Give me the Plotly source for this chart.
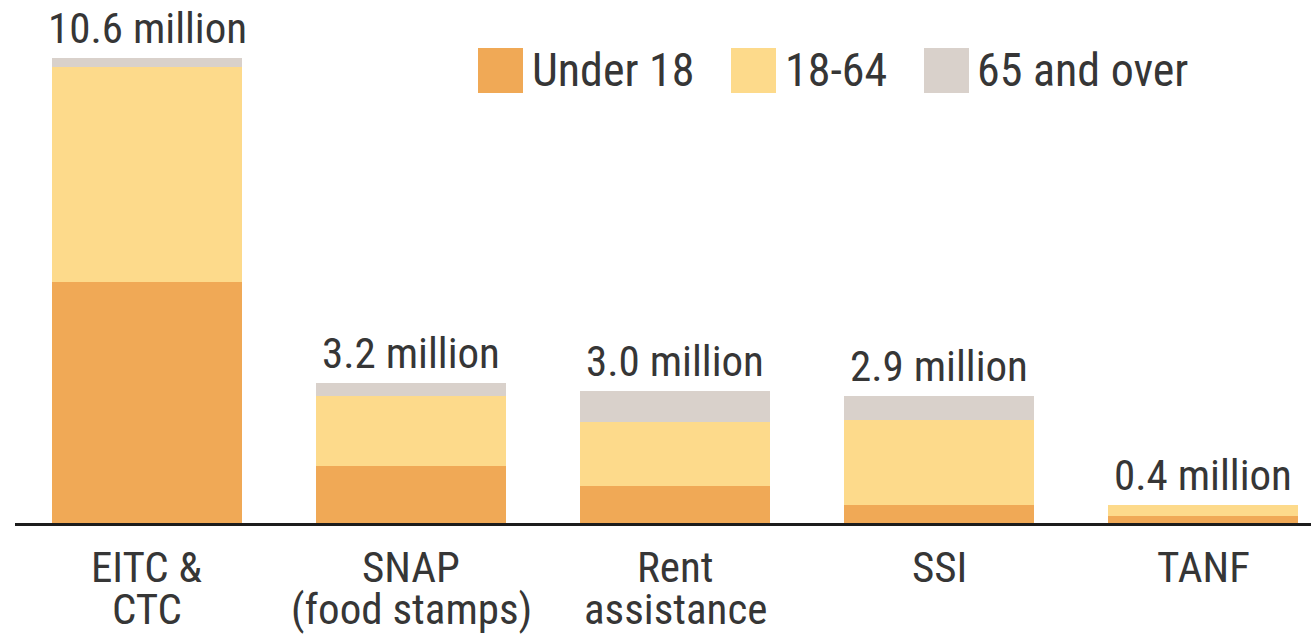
import plotly.graph_objects as go

categories = ["EITC &<br>CTC", "SNAP<br>(food stamps)", "Rent<br>assistance", "SSI", "TANF"]
under_18 = [5.5, 1.3, 0.85, 0.4, 0.15]
age_18_64 = [4.9, 1.6, 1.45, 1.95, 0.25]
age_65_over = [0.2, 0.3, 0.7, 0.55, 0.0]
total_labels = ["10.6 million", "3.2 million", "3.0 million", "2.9 million", "0.4 million"]
series_names = ["Under 18", "18-64", "65 and over"]
series_colors = ["#F0A956", "#FDDA8B", "#D9D1CB"]

FONT = "Liberation Sans Narrow, Roboto Condensed, Arial Narrow, Liberation Sans, sans-serif"
TXT = "#363636"

W, H = 1311, 638
ML, MR, MT, MB = 15, 0, 0, 115
PW = W - ML - MR
PH = H - MT - MB

x_idx = list(range(len(categories)))
fig = go.Figure()
for name, vals, col in zip(series_names, [under_18, age_18_64, age_65_over], series_colors):
    fig.add_trace(go.Bar(x=x_idx, y=vals, name=name, marker=dict(color=col, line=dict(width=0)),
                         width=0.72, showlegend=False))

totals = [a + b + c for a, b, c in zip(under_18, age_18_64, age_65_over)]
annotations = []
for i, (t, lab) in enumerate(zip(totals, total_labels)):
    annotations.append(dict(x=i, y=t, xref="x", yref="y", text=lab, showarrow=False,
                            xanchor="center", yanchor="middle", yshift=30,
                            font=dict(family=FONT, size=43, color=TXT)))
for i, cat in enumerate(categories):
    lines = cat.split("<br>")
    for j, ln in enumerate(lines):
        annotations.append(dict(x=i, y=0, xref="x", yref="paper", text=ln, showarrow=False,
                                xanchor="center", yanchor="middle", yshift=-44 - 42 * j,
                                font=dict(family=FONT, size=43, color=TXT)))

# custom legend (large squares)
shapes = []
leg_sq_x = [478, 731, 924]
leg_txt_x = [530, 783, 975]
sq = 45
sq_top = 48
for name, col, sx, tx in zip(series_names, series_colors, leg_sq_x, leg_txt_x):
    x0 = (sx - ML) / PW
    x1 = (sx + sq - ML) / PW
    y1 = (PH - (sq_top - MT)) / PH
    y0 = (PH - (sq_top + sq - MT)) / PH
    shapes.append(dict(type="rect", xref="paper", yref="paper", x0=x0, x1=x1, y0=y0, y1=y1,
                       fillcolor=col, line=dict(width=0), layer="above"))
    annotations.append(dict(x=(tx - ML) / PW, y=(y0 + y1) / 2, xref="paper", yref="paper",
                            text=name, showarrow=False, xanchor="left", yanchor="middle",
                            font=dict(family=FONT, size=46, color=TXT)))

ymax = 10.6 * 523 / 465
fig.update_layout(
    barmode="stack",
    width=W, height=H,
    margin=dict(l=ML, r=MR, t=MT, b=MB, pad=0),
    paper_bgcolor="white", plot_bgcolor="white",
    xaxis=dict(range=[-0.5, -0.5 + PW / 264], showticklabels=False, ticks="", showgrid=False,
               zeroline=False, showline=True, linecolor="#1c1c1c", linewidth=3, fixedrange=True),
    yaxis=dict(range=[0, ymax], visible=False, showgrid=False, zeroline=False, fixedrange=True),
    annotations=annotations,
    shapes=shapes,
    showlegend=False,
)

fig.write_html("out.html", config={"displayModeBar": False},
               post_script="document.body.style.margin='0';document.body.style.overflow='hidden';")
